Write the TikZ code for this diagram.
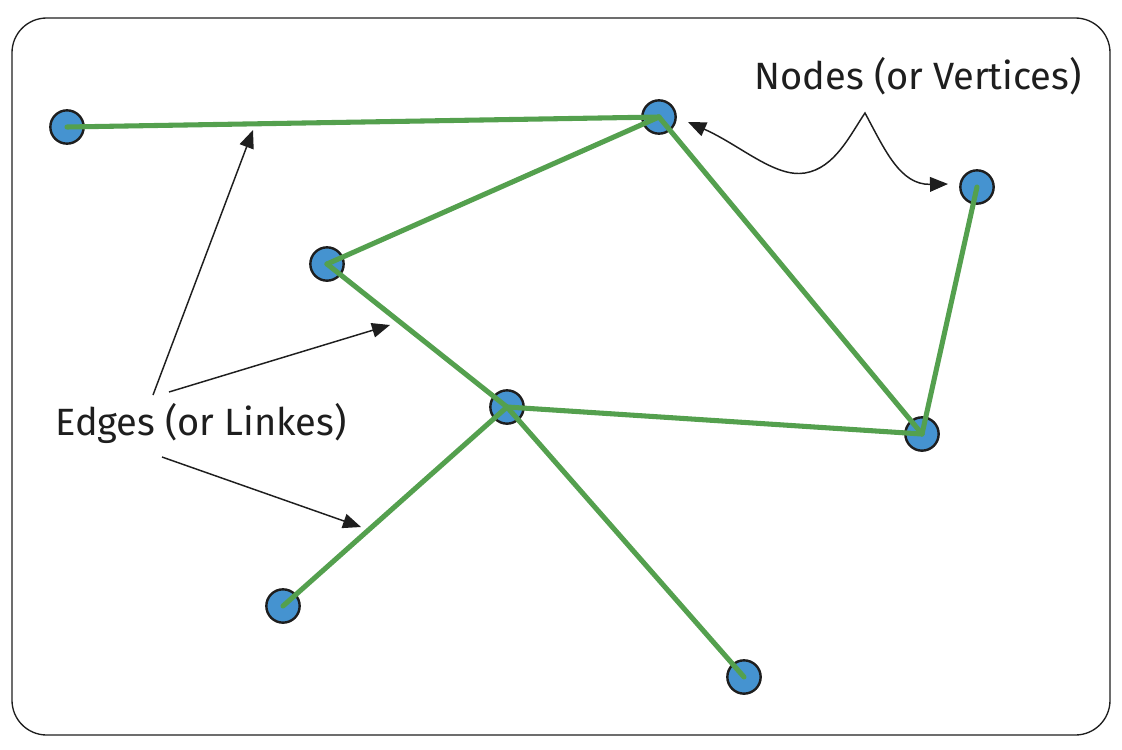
\documentclass[tikz,border=0pt]{standalone}
\usepackage{fontspec}
\setmainfont{Fira Sans}
\usetikzlibrary{arrows.meta}
\definecolor{nodeblue}{RGB}{69,147,208}
\definecolor{edgegreen}{RGB}{84,160,78}
\definecolor{ink}{RGB}{30,30,30}
\begin{document}
\begin{tikzpicture}[x=0.75pt,y=-0.75pt,
  vtx/.style={circle,draw=ink,fill=nodeblue,line width=1.8pt,minimum size=25pt,inner sep=0pt},
  edgeline/.style={draw=edgegreen,line width=3.8pt,line cap=round},
  pointer/.style={draw=ink,line width=1.1pt,-{Triangle[length=13.5pt,width=11pt]}},
  pointer2/.style={draw=ink,line width=1.1pt,{Triangle[length=13.5pt,width=11pt]}-{Triangle[length=13.5pt,width=11pt]}},
  lbl/.style={text=ink,font=\fontsize{28.5pt}{32pt}\selectfont,inner sep=0pt}]
\useasboundingbox (0,0) rectangle (1122,750);
\draw[ink,line width=1pt,rounded corners=26pt] (12,18) rectangle (1110,735);
% vertices
\node[vtx] (A) at (67,127) {};
\node[vtx] (B) at (659,117) {};
\node[vtx] (C) at (977,187) {};
\node[vtx] (D) at (327,264) {};
\node[vtx] (E) at (507,407) {};
\node[vtx] (F) at (922,434) {};
\node[vtx] (G) at (283,606) {};
\node[vtx] (H) at (744,677) {};
% edges
\draw[edgeline] (A.center) -- (B.center);
\draw[edgeline] (B.center) -- (D.center);
\draw[edgeline] (B.center) -- (F.center);
\draw[edgeline] (D.center) -- (E.center);
\draw[edgeline] (E.center) -- (F.center);
\draw[edgeline] (F.center) -- (C.center);
\draw[edgeline] (E.center) -- (G.center);
\draw[edgeline] (E.center) -- (H.center);
% labels
\node[lbl] (nodes) at (918,76) {Nodes (or Vertices)};
\node[lbl] (edges) at (201,423) {Edges (or Linkes)};
% pointers
\coordinate (s1) at (153,395);
\coordinate (t1) at (253,130);
\coordinate (s2) at (169,392);
\coordinate (t2) at (390,325);
\coordinate (s3) at (162,457);
\coordinate (t3) at (361,527);
\draw[pointer] (s1) -- (t1);
\draw[pointer] (s2) -- (t2);
\draw[pointer] (s3) -- (t3);
\coordinate (cl) at (688,122);
\coordinate (pk) at (865,113);
\coordinate (cr) at (948,184);
\draw[pointer2] (cl) .. controls (740,145) and (775,178) .. (805,173)
  .. controls (835,168) and (850,135) .. (pk)
  .. controls (885,150) and (900,185) .. (cr);
\end{tikzpicture}
\end{document}
